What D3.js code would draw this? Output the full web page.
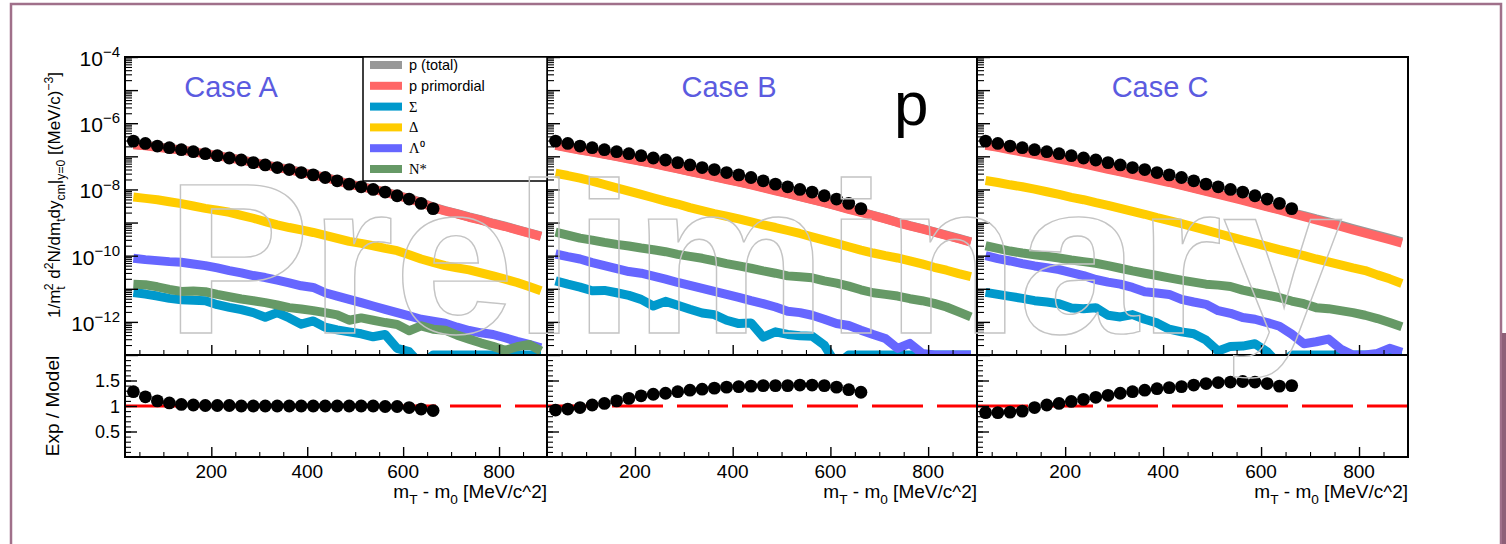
<!DOCTYPE html>
<html>
<head>
<meta charset="utf-8">
<script src="https://cdn.jsdelivr.net/npm/d3@7"></script>
<style>
body { margin: 0; background: #fff; }
svg { display: block; font-family: "Liberation Sans", Arial, Helvetica, sans-serif; }
</style>
</head>
<body>
<svg width="1506" height="544"></svg>
<script>
// bin centres of m_T - m_0 [MeV/c^2]
var massBins = [37.5, 62.5, 87.5, 112.5, 137.5, 162.5, 187.5, 212.5, 237.5, 262.5,
    287.5, 312.5, 337.5, 362.5, 387.5, 412.5, 437.5, 462.5, 487.5, 512.5,
    537.5, 562.5, 587.5, 612.5, 637.5, 662.5, 687.5, 712.5, 737.5, 762.5,
    787.5, 812.5, 837.5, 862.5, 887.5];

// yields are kept as log10 of 1/mt^2 d2N/dmt dy
// measured protons (same in every panel, first 26 bins)
var expYield = [-6.54,-6.61,-6.69,-6.74,-6.80,-6.86,-6.92,-6.98,-7.05,-7.11,-7.19,-7.26,-7.34,
    -7.40,-7.49,-7.56,-7.64,-7.74,-7.84,-7.92,-8.00,-8.08,-8.19,-8.29,-8.42,-8.58];

// Case A
var totalA  = [-6.64,-6.67,-6.72,-6.76,-6.80,-6.86,-6.91,-6.97,-7.04,-7.10,-7.18,-7.25,-7.33,-7.39,-7.48,-7.55,-7.63,-7.73,-7.83,-7.91,-7.99,-8.07,-8.18,-8.27,-8.39,-8.53,-8.64,-8.73,-8.83,-8.92,-9.02,-9.11,-9.21,-9.31,-9.41];
var primA   = [-6.65,-6.68,-6.73,-6.77,-6.81,-6.87,-6.92,-6.98,-7.05,-7.11,-7.19,-7.26,-7.34,-7.40,-7.49,-7.56,-7.64,-7.74,-7.84,-7.92,-8.00,-8.08,-8.19,-8.28,-8.40,-8.54,-8.65,-8.74,-8.84,-8.93,-9.03,-9.12,-9.22,-9.32,-9.42];
var sigmaA  = [-11.11,-11.16,-11.22,-11.29,-11.33,-11.35,-11.36,-11.48,-11.56,-11.63,-11.72,-11.86,-11.72,-11.88,-12.07,-11.97,-12.16,-12.24,-12.30,-12.36,-12.45,-12.38,-12.80,-12.90,-13.3,-13,-13,-13,-13,-13,-13,-13,-13,-13,-13];
var deltaA  = [-8.23,-8.27,-8.31,-8.37,-8.43,-8.50,-8.57,-8.63,-8.69,-8.78,-8.87,-8.97,-9.07,-9.15,-9.22,-9.30,-9.39,-9.48,-9.57,-9.63,-9.70,-9.78,-9.85,-9.97,-10.10,-10.20,-10.30,-10.37,-10.43,-10.52,-10.61,-10.71,-10.81,-10.93,-11.06];
var lambdaA = [-10.08,-10.12,-10.15,-10.18,-10.20,-10.25,-10.30,-10.37,-10.45,-10.52,-10.60,-10.66,-10.74,-10.82,-10.91,-10.96,-11.12,-11.22,-11.32,-11.42,-11.52,-11.62,-11.72,-11.82,-11.92,-11.98,-12.04,-12.16,-12.26,-12.33,-12.38,-12.48,-12.59,-12.68,-12.78];
var nstarA  = [-10.86,-10.88,-10.94,-11.02,-11.08,-11.07,-11.09,-11.17,-11.24,-11.31,-11.36,-11.42,-11.49,-11.57,-11.61,-11.66,-11.72,-11.79,-11.95,-11.88,-11.95,-12.02,-12.08,-12.27,-12.12,-12.22,-12.25,-12.40,-12.52,-12.64,-12.74,-12.86,-12.75,-12.68,-12.88];
var ratioA  = [1.28,1.18,1.10,1.06,1.03,1.02,1.01,1.01,1.01,1.00,1.00,1.00,1.00,1.00,1.00,1.00,1.00,1.00,1.00,1.00,1.00,0.99,0.99,0.97,0.94,0.91];

// Case B
var totalB  = [-6.66,-6.73,-6.80,-6.86,-6.93,-7.00,-7.07,-7.14,-7.21,-7.29,-7.37,-7.45,-7.53,-7.61,-7.69,-7.77,-7.85,-7.94,-8.03,-8.12,-8.21,-8.30,-8.39,-8.49,-8.59,-8.68,-8.78,-8.88,-8.99,-9.09,-9.18,-9.28,-9.38,-9.48,-9.58];
var primB   = [-6.67,-6.74,-6.81,-6.87,-6.94,-7.01,-7.08,-7.15,-7.22,-7.30,-7.38,-7.46,-7.54,-7.62,-7.70,-7.78,-7.86,-7.95,-8.04,-8.13,-8.22,-8.31,-8.40,-8.50,-8.60,-8.69,-8.79,-8.89,-9.00,-9.10,-9.19,-9.29,-9.39,-9.49,-9.59];
var sigmaB  = [-10.76,-10.86,-10.95,-11.06,-11.05,-11.12,-11.20,-11.32,-11.52,-11.38,-11.50,-11.62,-11.73,-11.78,-11.95,-12.05,-12.03,-12.46,-12.30,-12.38,-12.42,-12.43,-12.70,-13.3,-13,-13,-13,-13,-13,-13,-13,-13,-13,-13,-13];
var deltaB  = [-7.51,-7.58,-7.66,-7.75,-7.85,-7.95,-8.05,-8.15,-8.25,-8.35,-8.44,-8.55,-8.64,-8.73,-8.81,-8.89,-8.98,-9.07,-9.15,-9.24,-9.33,-9.43,-9.53,-9.63,-9.73,-9.83,-9.92,-10.00,-10.07,-10.16,-10.25,-10.35,-10.44,-10.54,-10.63];
var lambdaB = [-9.95,-10.03,-10.10,-10.21,-10.30,-10.39,-10.48,-10.53,-10.62,-10.71,-10.81,-10.90,-10.99,-11.08,-11.17,-11.26,-11.36,-11.45,-11.55,-11.68,-11.72,-11.80,-11.92,-12.05,-12.11,-12.25,-12.38,-12.50,-12.80,-12.65,-12.95,-13,-13,-13,-13];
var nstarB  = [-9.29,-9.38,-9.47,-9.53,-9.60,-9.66,-9.71,-9.77,-9.82,-9.88,-9.96,-10.02,-10.08,-10.16,-10.24,-10.31,-10.38,-10.46,-10.53,-10.61,-10.64,-10.67,-10.76,-10.83,-10.92,-11.03,-11.12,-11.17,-11.22,-11.30,-11.36,-11.44,-11.55,-11.70,-11.85];
var ratioB  = [0.92,0.94,0.97,1.02,1.05,1.10,1.15,1.20,1.23,1.25,1.28,1.31,1.33,1.35,1.37,1.38,1.39,1.40,1.40,1.40,1.41,1.41,1.40,1.37,1.32,1.27];

// Case C
var totalC  = [-6.65,-6.71,-6.78,-6.85,-6.92,-6.99,-7.06,-7.13,-7.21,-7.29,-7.37,-7.45,-7.53,-7.61,-7.69,-7.77,-7.86,-7.95,-8.04,-8.13,-8.22,-8.31,-8.41,-8.51,-8.60,-8.70,-8.79,-8.89,-8.98,-9.08,-9.18,-9.28,-9.38,-9.48,-9.58];
var primC   = [-6.67,-6.73,-6.80,-6.87,-6.94,-7.01,-7.08,-7.15,-7.23,-7.31,-7.39,-7.47,-7.55,-7.63,-7.71,-7.79,-7.88,-7.97,-8.06,-8.15,-8.24,-8.33,-8.43,-8.53,-8.62,-8.72,-8.82,-8.92,-9.02,-9.12,-9.22,-9.32,-9.42,-9.52,-9.62];
var sigmaC  = [-11.11,-11.17,-11.23,-11.29,-11.36,-11.40,-11.45,-11.58,-11.60,-11.57,-11.80,-11.85,-11.78,-11.92,-12.03,-12.22,-12.30,-12.36,-12.55,-12.88,-12.74,-12.73,-12.66,-12.90,-13.3,-13,-13,-13,-13,-13,-13,-13,-13,-13,-13];
var deltaC  = [-7.73,-7.79,-7.86,-7.92,-7.99,-8.07,-8.15,-8.24,-8.31,-8.40,-8.48,-8.57,-8.66,-8.75,-8.85,-8.94,-9.03,-9.13,-9.23,-9.33,-9.43,-9.53,-9.62,-9.72,-9.82,-9.91,-10.00,-10.10,-10.19,-10.28,-10.37,-10.45,-10.58,-10.70,-10.84];
var lambdaC = [-10.00,-10.09,-10.16,-10.24,-10.31,-10.36,-10.42,-10.51,-10.60,-10.72,-10.80,-10.86,-10.96,-11.09,-11.13,-11.17,-11.32,-11.40,-11.47,-11.66,-11.74,-11.87,-11.92,-12.02,-12.13,-12.37,-12.66,-12.60,-12.52,-12.82,-13,-13,-12.95,-12.80,-12.92];
var nstarC  = [-9.70,-9.78,-9.86,-9.92,-9.97,-10.02,-10.07,-10.13,-10.18,-10.23,-10.30,-10.38,-10.46,-10.53,-10.60,-10.67,-10.74,-10.80,-10.86,-10.89,-10.93,-11.04,-11.12,-11.19,-11.27,-11.37,-11.45,-11.57,-11.60,-11.66,-11.72,-11.80,-11.90,-12.02,-12.15];
var ratioC  = [0.87,0.87,0.88,0.90,0.97,1.02,1.05,1.09,1.13,1.17,1.21,1.25,1.28,1.31,1.34,1.36,1.38,1.41,1.44,1.46,1.47,1.48,1.47,1.44,1.39,1.40];

var caseLabels = ["Case A", "Case B", "Case C"];
var seriesLabels = ["p (total)", "p primordial", "Σ", "Δ", "Λ\u2070", "N*"];
var COLORS = ["#999999", "#ff6666", "#0099cc", "#ffcc00", "#6666ff", "#669966"];
var yTickExp = [-4, -6, -8, -10, -12];
var xTicks = [200, 400, 600, 800];
var ratioTicks = [0.5, 1, 1.5];

var panels = [
    {models: [totalA, primA, sigmaA, deltaA, lambdaA, nstarA], ratio: ratioA},
    {models: [totalB, primB, sigmaB, deltaB, lambdaB, nstarB], ratio: ratioB},
    {models: [totalC, primC, sigmaC, deltaC, lambdaC, nstarC], ratio: ratioC},
];

// layout
var PX = [[125, 547], [547, 977], [977, 1408]];
var TOP_Y0 = 57, TOP_Y1 = 355, RAT_Y1 = 457;
var CASE_X = [231, 729, 1160];

var svg = d3.select("svg");

// outer frame
svg.append("rect").attr("x", 11).attr("y", 4).attr("width", 1490).attr("height", 600)
    .attr("fill", "none").attr("stroke", "#a0708a").attr("stroke-width", 2.5);
svg.append("rect").attr("x", 1502).attr("y", 333).attr("width", 4).attr("height", 211)
    .attr("fill", "#8e6078");

var yTop = d3.scaleLog().domain([1e-13, 1e-4]).range([TOP_Y1, TOP_Y0]);
var yRat = d3.scaleLinear().domain([0, 2]).range([RAT_Y1, TOP_Y1]);

// text with sub/superscripts
function rich(sel, parts, size) {
    var shift = 0;
    parts.forEach(function(p){
        var s = p.sub ? size*0.3 : (p.sup ? -size*0.42 : 0);
        var ts = sel.append("tspan").text(p.t).attr("dy", s - shift);
        if(p.sub || p.sup) ts.attr("font-size", p.fs || size*0.72);
        if(p.dx) ts.attr("dx", p.dx);
        shift = s;
    });
}

function styleTicks(g, w){
    g.select(".domain").remove();
    g.selectAll(".tick line").attr("stroke", "#000").attr("stroke-width", w || 1.4);
}

panels.forEach(function(p, i){
    var x0 = PX[i][0], x1 = PX[i][1];
    var x = d3.scaleLinear().domain([20, 900]).range([x0, x1]);

    // clip areas
    svg.append("clipPath").attr("id", "clipT" + i).append("rect")
        .attr("x", x0).attr("y", TOP_Y0).attr("width", x1 - x0).attr("height", TOP_Y1 - TOP_Y0);
    svg.append("clipPath").attr("id", "clipR" + i).append("rect")
        .attr("x", x0).attr("y", TOP_Y1).attr("width", x1 - x0).attr("height", RAT_Y1 - TOP_Y1);

    // spectra
    var gT = svg.append("g").attr("clip-path", "url(#clipT" + i + ")");
    var line = d3.line()
        .x(function(d, j){ return x(massBins[j]); })
        .y(function(d){ return yTop(Math.pow(10, d)); });
    p.models.forEach(function(vals, s){
        gT.append("path").attr("d", line(vals))
            .attr("fill", "none").attr("stroke", COLORS[s])
            .attr("stroke-width", 9).attr("stroke-linejoin", "round");
    });
    gT.selectAll(".dat").data(expYield).enter().append("circle")
        .attr("class", "dat")
        .attr("cx", function(d, j){ return x(massBins[j]); })
        .attr("cy", function(d){ return yTop(Math.pow(10, d)); })
        .attr("r", 6.4).attr("fill", "#000");

    // ratio
    var gR = svg.append("g").attr("clip-path", "url(#clipR" + i + ")");
    gR.append("line").attr("x1", x0).attr("x2", x1)
        .attr("y1", yRat(1)).attr("y2", yRat(1))
        .attr("stroke", "#ff0000").attr("stroke-width", 3).attr("stroke-dasharray", "51,14");
    gR.selectAll(".rat").data(p.ratio).enter().append("circle")
        .attr("class", "rat")
        .attr("cx", function(d, j){ return x(massBins[j]); })
        .attr("cy", function(d){ return yRat(d); })
        .attr("r", 6.4).attr("fill", "#000");

    // y ticks (inside)
    var decades = d3.range(-13, -3).map(function(e){ return Math.pow(10, e); });
    var minors = [];
    decades.slice(0, -1).forEach(function(d){ for(var k=2; k<10; k++) minors.push(d*k); });
    svg.append("g").attr("transform", "translate(" + x0 + ",0)")
        .call(d3.axisLeft(yTop).tickValues(decades).tickSize(-13).tickFormat(""))
        .call(styleTicks);
    svg.append("g").attr("transform", "translate(" + x0 + ",0)")
        .call(d3.axisLeft(yTop).tickValues(minors).tickSize(-7).tickFormat(""))
        .call(styleTicks, 1.1);
    svg.append("g").attr("transform", "translate(" + x0 + ",0)")
        .call(d3.axisLeft(yRat).tickValues(ratioTicks).tickSize(-12).tickFormat(""))
        .call(styleTicks);
    svg.append("g").attr("transform", "translate(" + x0 + ",0)")
        .call(d3.axisLeft(yRat).tickValues(d3.range(0.1, 2, 0.1)).tickSize(-6).tickFormat(""))
        .call(styleTicks, 1.1);

    // x ticks (inside, on both bottoms)
    var xMinor = d3.range(50, 900, 50).filter(function(v){ return v % 200 != 0; });
    [TOP_Y1, RAT_Y1].forEach(function(yy){
        svg.append("g").attr("transform", "translate(0," + yy + ")")
            .call(d3.axisBottom(x).tickValues(xTicks).tickSize(-10).tickFormat(""))
            .call(styleTicks);
        svg.append("g").attr("transform", "translate(0," + yy + ")")
            .call(d3.axisBottom(x).tickValues(xMinor).tickSize(-5).tickFormat(""))
            .call(styleTicks, 1.1);
    });
    // x tick labels
    svg.append("g").selectAll("text").data(xTicks).enter().append("text")
        .attr("x", function(d){ return x(d); }).attr("y", 478)
        .attr("text-anchor", "middle").attr("font-size", 19)
        .text(function(d){ return d; });

    // x title
    var xt = svg.append("text").attr("x", x1).attr("y", 498)
        .attr("text-anchor", "end").attr("font-size", 19);
    rich(xt, [{t: "m"}, {t: "T", sub: true}, {t: " - m"}, {t: "0", sub: true}, {t: " [MeV/c^2]"}], 19);

    // frames
    svg.append("rect").attr("x", x0).attr("y", TOP_Y0).attr("width", x1 - x0).attr("height", TOP_Y1 - TOP_Y0)
        .attr("fill", "none").attr("stroke", "#000").attr("stroke-width", 2);
    svg.append("rect").attr("x", x0).attr("y", TOP_Y1).attr("width", x1 - x0).attr("height", RAT_Y1 - TOP_Y1)
        .attr("fill", "none").attr("stroke", "#000").attr("stroke-width", 2);

    // case label
    svg.append("text").attr("x", CASE_X[i]).attr("y", 97)
        .attr("text-anchor", "middle").attr("font-size", 29).attr("fill", "#5b5be0")
        .text(caseLabels[i]);
});

// y tick labels, first panel only
yTickExp.forEach(function(e){
    var t = svg.append("text").attr("x", 120).attr("y", yTop(Math.pow(10, e)) + 9)
        .attr("text-anchor", "end").attr("font-size", 21);
    rich(t, [{t: "10"}, {t: "\u2212" + (-e), sup: true, fs: 15}], 21);
});
ratioTicks.forEach(function(v){
    svg.append("text").attr("x", 120).attr("y", yRat(v) + 6.5)
        .attr("text-anchor", "end").attr("font-size", 18)
        .text(d3.format("")(v));
});

// axis titles
var yt = svg.append("text").attr("transform", "translate(60,195) rotate(-90)")
    .attr("text-anchor", "middle").attr("font-size", 17);
rich(yt, [
    {t: "1/m"}, {t: "t", sub: true}, {t: "2", sup: true, dx: -4}, {t: " d"}, {t: "2", sup: true},
    {t: "N/dm"}, {t: "t", sub: true}, {t: "dy"}, {t: "cm", sub: true}, {t: "|"}, {t: "y=0", sub: true},
    {t: " [(MeV/c)"}, {t: "\u22123", sup: true}, {t: "]"}
], 17);
svg.append("text").attr("transform", "translate(59,406) rotate(-90)")
    .attr("text-anchor", "middle").attr("font-size", 19).text("Exp / Model");

// legend
var lg = svg.append("g");
lg.append("rect").attr("x", 363).attr("y", TOP_Y0).attr("width", 184).attr("height", 124)
    .attr("fill", "#fff").attr("stroke", "#000").attr("stroke-width", 1.5);
seriesLabels.forEach(function(lab, k){
    var cy = 65 + k*20.8;
    lg.append("rect").attr("x", 370).attr("y", cy - 4).attr("width", 32).attr("height", 8)
        .attr("fill", COLORS[k]);
    var t = lg.append("text").attr("x", 409).attr("y", cy + 5).attr("font-size", 14.5).text(lab);
    if(k >= 2) t.attr("font-family", "'Liberation Serif', 'Times New Roman', serif");
});

// particle label
svg.append("text").attr("x", 894).attr("y", 125).attr("font-size", 62).text("p");

// watermark on top
svg.append("text").attr("x", 166).attr("y", 333).attr("font-size", 216)
    .attr("font-weight", "bold")
    .attr("fill", "none").attr("stroke", "#c4c4c4").attr("stroke-width", 1.4)
    .text("Preliminary");
</script>
</body>
</html>
